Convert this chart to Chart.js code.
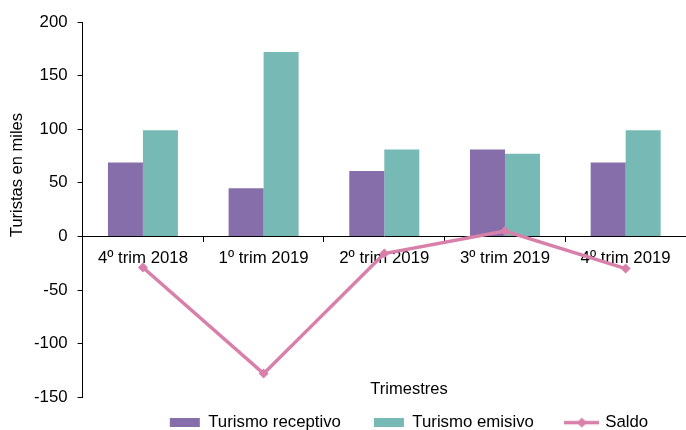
<!DOCTYPE html>
<html>
<head>
<meta charset="utf-8">
<script src="https://cdn.jsdelivr.net/npm/chart.js@4.4.0/dist/chart.umd.min.js"></script>
<style>
  html, body { margin: 0; padding: 0; background: #fff; overflow: hidden; }
  canvas { display: block; }
</style>
</head>
<body>
<canvas id="grafico" width="686" height="430"></canvas>
<script>
// Datos del gráfico
const trimestres = ['4º trim 2018', '1º trim 2019', '2º trim 2019', '3º trim 2019', '4º trim 2019'];
const receptivo = [69, 45, 61, 81, 69];
const emisivo = [99, 172, 81, 77, 99];
const saldo = [-29, -128, -16, 5, -30];
const nombresSeries = ['Turismo receptivo', 'Turismo emisivo', 'Saldo'];
const tituloY = 'Turistas en miles';
const tituloX = 'Trimestres';

const colores = ['#856eaa', '#76b9b5', '#d880aa'];
const fuente = '"Liberation Sans", Arial, sans-serif';

Chart.defaults.font.family = fuente;
Chart.defaults.font.size = 16.8;
Chart.defaults.color = '#000';

// icono de la leyenda para la línea (línea + rombo)
function iconoSaldo() {
    const c = document.createElement('canvas');
    c.width = 35;
    c.height = 11;
    const g = c.getContext('2d');
    g.strokeStyle = colores[2];
    g.lineWidth = 3.5;
    g.beginPath();
    g.moveTo(0, 5.5);
    g.lineTo(35, 5.5);
    g.stroke();
    g.fillStyle = colores[2];
    g.beginPath();
    g.moveTo(17.5, 0.5);
    g.lineTo(22.5, 5.5);
    g.lineTo(17.5, 10.5);
    g.lineTo(12.5, 5.5);
    g.closePath();
    g.fill();
    return c;
}
const estilosLeyenda = ['rect', 'rect', iconoSaldo()];

// títulos de ejes y ajuste de la leyenda
const extras = {
    id: 'extras',
    afterLayout(chart) {
        const lg = chart.legend;
        lg.left += 54; lg.right += 54;
        lg.top -= 16; lg.bottom -= 16;
    },
    afterDraw(chart) {
        const ctx = chart.ctx;
        ctx.save();
        ctx.fillStyle = '#000';
        ctx.font = '16.5px ' + fuente;
        ctx.textAlign = 'center';
        ctx.textBaseline = 'middle';
        ctx.fillText(tituloX, 409, 389);
        ctx.translate(17.5, 175);
        ctx.rotate(-Math.PI / 2);
        ctx.fillText(tituloY, 0, 0);
        ctx.restore();
    }
};

// sin margen extra a la derecha
const sinRelleno = s => { s.paddingRight = 0; };

new Chart(document.getElementById('grafico'), {
    type: 'bar',
    data: {
        labels: trimestres,
        datasets: [
            {
                label: nombresSeries[0],
                data: receptivo,
                backgroundColor: colores[0],
                borderWidth: 0,
                categoryPercentage: 0.58,
                barPercentage: 1,
                order: 2
            },
            {
                label: nombresSeries[1],
                data: emisivo,
                backgroundColor: colores[1],
                borderWidth: 0,
                categoryPercentage: 0.58,
                barPercentage: 1,
                order: 2
            },
            {
                type: 'line',
                label: nombresSeries[2],
                data: saldo,
                borderColor: colores[2],
                backgroundColor: colores[2],
                borderWidth: 3.5,
                pointStyle: 'rectRot',
                pointRadius: 5,
                pointBorderWidth: 0,
                tension: 0,
                order: 0
            }
        ]
    },
    options: {
        responsive: false,
        animation: false,
        devicePixelRatio: 1,
        layout: { autoPadding: false, padding: { top: 22, left: 24, right: 0, bottom: -27 } },
        scales: {
            x: {
                position: { y: 0 },
                afterFit: sinRelleno,
                grid: { drawOnChartArea: false, tickLength: 5, color: '#000', offset: true },
                border: { display: true, color: '#000', width: 1 },
                ticks: { padding: 7, maxRotation: 0, autoSkip: false, color: '#000' }
            },
            y: {
                min: -150,
                max: 200,
                afterFit: sinRelleno,
                grid: { drawOnChartArea: false, tickLength: 5, color: '#000' },
                border: { display: true, color: '#000', width: 1 },
                ticks: { stepSize: 50, padding: 10, color: '#000' }
            }
        },
        plugins: {
            legend: {
                position: 'bottom',
                labels: {
                    usePointStyle: true,
                    pointStyleWidth: 30,
                    boxHeight: 9,
                    padding: 33,
                    color: '#000',
                    generateLabels(chart) {
                        const items = Chart.defaults.plugins.legend.labels.generateLabels(chart);
                        items.sort((a, b) => a.datasetIndex - b.datasetIndex);
                        items.forEach(it => { it.pointStyle = estilosLeyenda[it.datasetIndex]; });
                        return items;
                    }
                }
            },
            tooltip: { enabled: false }
        }
    },
    plugins: [extras]
});
</script>
</body>
</html>
